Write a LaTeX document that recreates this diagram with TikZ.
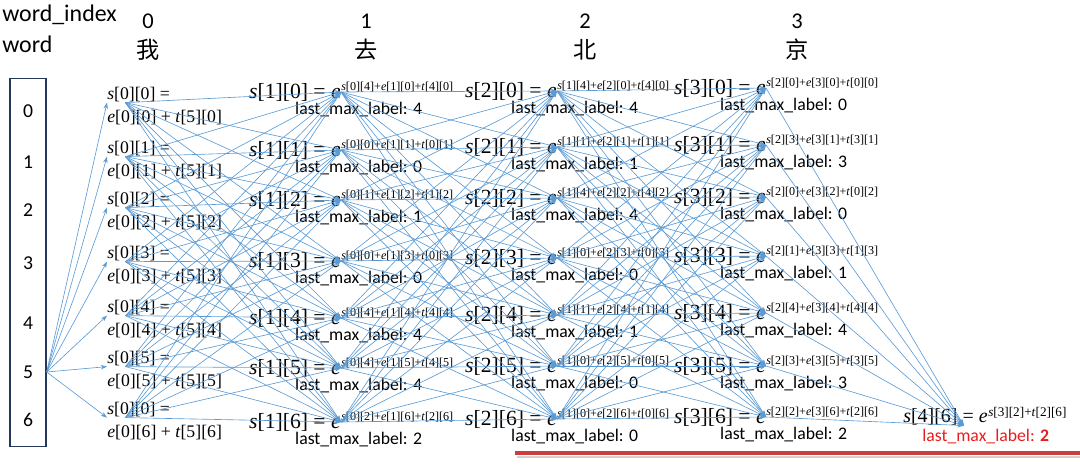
\documentclass[tikz,border=0pt]{standalone}
\usepackage{fontspec}
\setmainfont{Carlito}
\newfontfamily\tnr{Liberation Serif}
\newfontfamily\cjk{Noto Sans CJK SC}
\usetikzlibrary{arrows.meta,positioning}
\definecolor{eblue}{RGB}{91,155,213}
\definecolor{boxblue}{RGB}{38,55,92}
\definecolor{lred}{RGB}{232,30,30}
\definecolor{linered}{RGB}{204,62,62}
\newcommand{\iv}[1]{\textit{#1}}

\begin{document}
\begin{tikzpicture}[x=0.025cm,y=-0.025cm,
	edge/.style={draw=eblue,line width=0.45pt,-{Stealth[length=4.5pt,width=3.2pt]}},
	head/.style={inner sep=0pt,font=\fontsize{17}{19}\selectfont},
	hanzi/.style={inner sep=0pt,font=\cjk\fontsize{16.5}{18}\selectfont},
	num/.style={inner sep=0pt,font=\fontsize{14}{16}\selectfont},
	first/.style={inner sep=0pt,anchor=west,font=\tnr\fontsize{12.6}{13}\selectfont},
	cell/.style={inner sep=0pt,anchor=east,font=\tnr\fontsize{15.4}{16}\selectfont},
	expo/.style={inner sep=0pt,anchor=west,yshift=-3pt,font=\tnr\fontsize{8.6}{9}\selectfont},
	lab/.style={inner sep=0pt,font=\fontsize{12.6}{14}\selectfont}]
	\useasboundingbox (0,0) rectangle (1080,469);
	\node[head,anchor=west] (wi) at (2,15) {word\_index};
	\node[head,anchor=west] (wd) at (2,44) {word};
	\node[head,font=\fontsize{16}{18}\selectfont] (c0) at (148,21) {0};
	\node[hanzi] (w0) at (148,50) {我};
	\node[head,font=\fontsize{16}{18}\selectfont] (c1) at (366,21) {1};
	\node[hanzi] (w1) at (366,50) {去};
	\node[head,font=\fontsize{16}{18}\selectfont] (c2) at (585,21) {2};
	\node[hanzi] (w2) at (585,50) {北};
	\node[head,font=\fontsize{16}{18}\selectfont] (c3) at (797,21) {3};
	\node[hanzi] (w3) at (797,50) {京};
	\node[draw=boxblue,line width=1.1pt,inner sep=0pt,minimum width=25.5pt,minimum height=261.5pt] (box) at (28,262.5) {};
	\foreach \k/\y in {0/111,1/162,2/210,3/263,4/323,5/372,6/420}
		\node[num] (n\k) at (28,\y) {\k};
	\foreach \k/\n/\y in {0/0/95,1/1/149,2/2/200,3/3/254,4/4/308,5/5/359,6/0/410}{
		\node[first] (s0\k) at (107,\y) {\iv{s}[0][\n] =};
		\node[first] (t0\k) at (107,\y+23) {\iv{e}[0][\k] + \iv{t}[5][\k]};
	}
	\foreach \k/\y/\p in {0/92/4,1/150/0,2/200/1,3/261/0,4/318/4,5/368/4,6/422/2}{
		\node[cell] (s1\k) at (341,\y) {\iv{s}[1][\k] = \iv{e}};
		\node[expo] (x1\k) at (s1\k.north east) {\iv{s}[0][\p]+\iv{e}[1][\k]+\iv{t}[\p][\k]};
		\node[lab,below right=0.5pt and 0pt of s1\k.south] (l1\k) {last\_max\_label: \p};
	}
	\foreach \k/\y/\p in {0/91/4,1/147/1,2/198/4,3/258/0,4/315/1,5/366/0,6/419/0}{
		\node[cell] (s2\k) at (557,\y) {\iv{s}[2][\k] = \iv{e}};
		\node[expo] (x2\k) at (s2\k.north east) {\iv{s}[1][\p]+\iv{e}[2][\k]+\iv{t}[\p][\k]};
		\node[lab,below right=0.5pt and 0pt of s2\k.south] (l2\k) {last\_max\_label: \p};
	}
	\foreach \k/\y/\p in {0/88/0,1/145/3,2/197/0,3/256/1,4/313/4,5/366/3,6/417/2}{
		\node[cell] (s3\k) at (766,\y) {\iv{s}[3][\k] = \iv{e}};
		\node[expo] (x3\k) at (s3\k.north east) {\iv{s}[2][\p]+\iv{e}[3][\k]+\iv{t}[\p][\k]};
		\node[lab,below right=0.5pt and 0pt of s3\k.south] (l3\k) {last\_max\_label: \p};
	}
	\node[cell,font=\tnr\fontsize{14.2}{15}\selectfont] (s46) at (988,417) {\iv{s}[4][6] = \iv{e}};
	\node[expo,font=\tnr\fontsize{9.4}{10}\selectfont] (x46) at (s46.north east) {\iv{s}[3][2]+\iv{t}[2][6]};
	\node[lab,text=lred,anchor=west] (l46) at (922,437) {last\_max\_label: \textbf{2}};
	\foreach \a in {0,...,6}{
		\draw[edge] (box.east |- n5) -- (s0\a.south west);
		\draw[edge] (s3\a.east) -- (s46.-25);
		\foreach \b in {0,...,6}{
			\draw[edge] (s0\a.210) -- (s1\b.east);
			\draw[edge] (s1\a.east) -- (s2\b.east);
			\draw[edge] (s2\a.east) -- (s3\b.east);
		}
	}
	\draw[line width=1.6pt,black!18] (517,457) -- (1080,457);
	\draw[line width=2.8pt,linered] (515,453) -- (1080,453);
\end{tikzpicture}
\end{document}
